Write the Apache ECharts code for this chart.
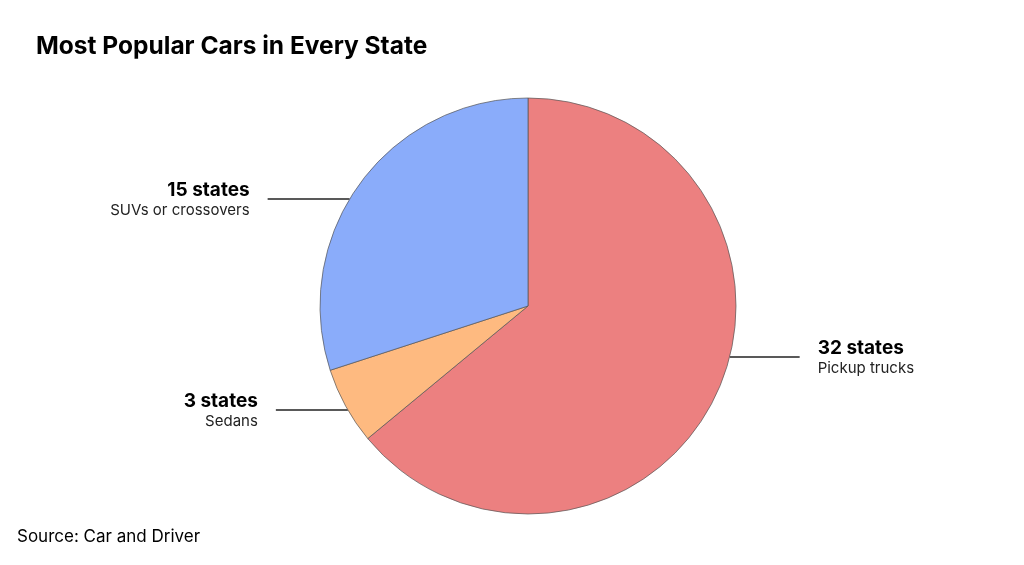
<!DOCTYPE html>
<html>
<head>
<meta charset="utf-8">
<script src="https://cdn.jsdelivr.net/npm/echarts@6/dist/echarts.min.js"></script>
<style>
html,body{margin:0;padding:0;background:#fff;}
#c{width:1024px;height:565px;}
</style>
</head>
<body>
<div id="c"></div>
<script>
const categories = ['Pickup trucks', 'Sedans', 'SUVs or crossovers'];
const values = [32, 3, 15];
const colors = ['#EC8080', '#FEBA80', '#8AACFA'];

// label layout (pixels)
const pieCenter = [528, 306];
const pieRadius = 208;
const labelLineY = [357, 410, 199];
const labelLineLen = [70, 72, 82];
const labelGap = 18;

const chart = echarts.init(document.getElementById('c'));
chart.setOption({
  animation: false,
  title: [
    {
      text: 'Most Popular Cars in Every State',
      left: 36, top: 34, padding: 0,
      textStyle: {fontFamily: 'Inter', fontWeight: 'bold', fontSize: 24.5, color: '#000'}
    },
    {
      text: 'Source: Car and Driver',
      left: 17, top: 528, padding: 0,
      textStyle: {fontFamily: 'Inter', fontWeight: 'normal', fontSize: 17, color: '#000'}
    }
  ],
  series: [{
    type: 'pie',
    center: pieCenter,
    radius: pieRadius,
    startAngle: 90,
    clockwise: true,
    data: categories.map((c, i) => ({name: c, value: values[i], itemStyle: {color: colors[i]}})),
    itemStyle: {borderColor: '#555', borderWidth: 0.7},
    emphasis: {disabled: true},
    label: {
      show: true,
      position: 'outside',
      formatter: p => '{a|' + p.value + ' states}\n{b|' + p.name + '}',
      rich: {
        a: {fontFamily: 'Inter', fontWeight: 'bold', fontSize: 19, lineHeight: 22, color: '#000'},
        b: {fontFamily: 'Inter', fontSize: 15, lineHeight: 18, color: '#222'}
      }
    },
    labelLine: {show: true, length: 0, length2: 70, lineStyle: {color: '#222', width: 1.4}},
    labelLayout: function (params) {
      const i = params.dataIndex;
      const y = labelLineY[i];
      const dy = y - pieCenter[1];
      const dx = Math.sqrt(pieRadius * pieRadius - dy * dy);
      const right = i === 0;
      const edgeX = right ? pieCenter[0] + dx : pieCenter[0] - dx;
      const endX = right ? edgeX + labelLineLen[i] : edgeX - labelLineLen[i];
      return {
        x: right ? endX + labelGap : endX - labelGap,
        y: y,
        align: right ? 'left' : 'right',
        verticalAlign: 'middle',
        labelLinePoints: [[edgeX, y], [endX, y], [endX, y]]
      };
    }
  }]
});
</script>
</body>
</html>
